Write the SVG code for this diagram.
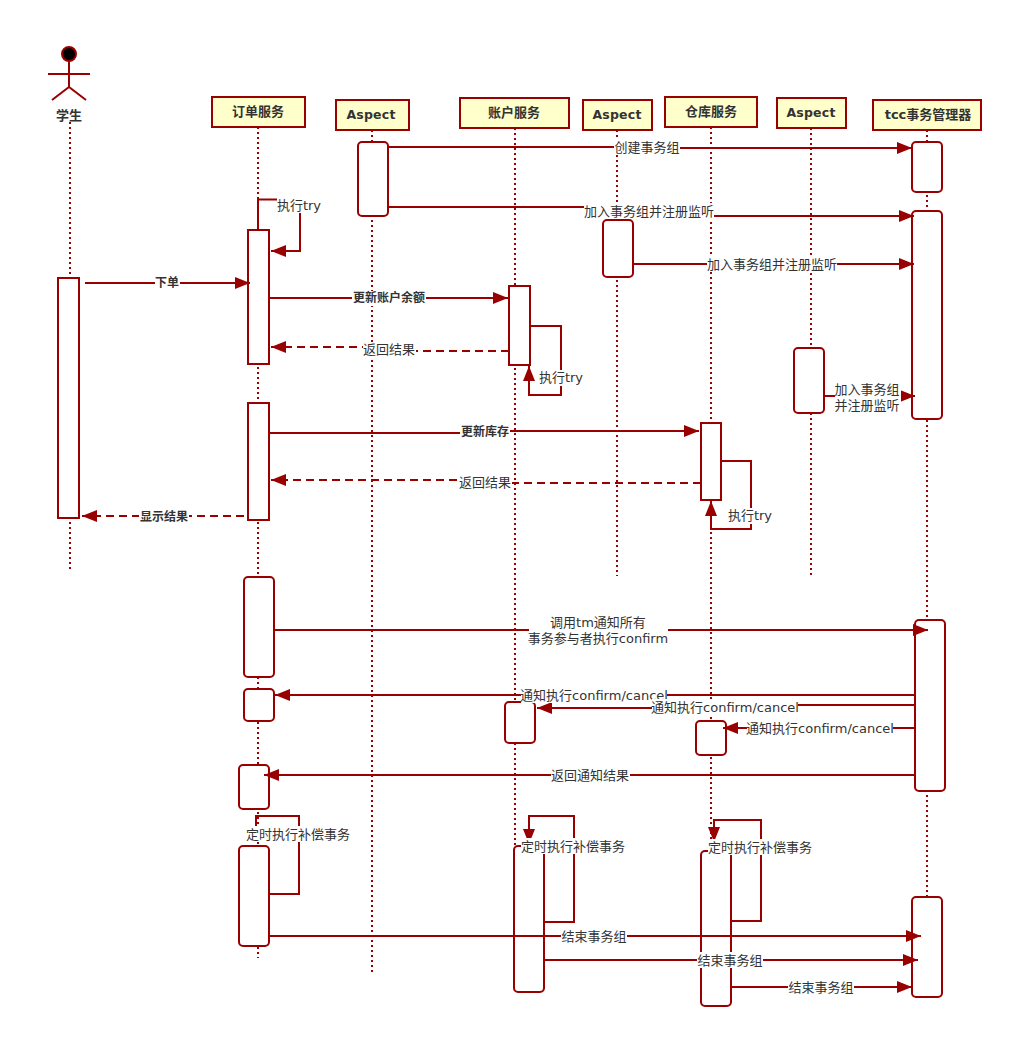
<svg xmlns="http://www.w3.org/2000/svg" width="1012" height="1039" viewBox="0 0 1012 1039">
<style>
text{font-family:"DejaVu Sans","Noto Sans CJK SC",sans-serif;font-size:13px;fill:#333;text-anchor:middle;dominant-baseline:central}
.b{font-weight:bold}.s{font-size:12px;font-weight:bold}
.asp{font-weight:bold;font-size:12.500px;letter-spacing:.2px}
.head{fill:#ffffcc;stroke:#990000;stroke-width:2}
.life{fill:none;stroke:#990000;stroke-width:2;stroke-dasharray:2 3}
.bar{fill:#fff;stroke:#990000;stroke-width:2}
.c{fill:none;stroke:#990000;stroke-width:2;marker-end:url(#a)}
.n{fill:none;stroke:#990000;stroke-width:2}
.d{stroke-dasharray:8 5}
.w{fill:#fff}
</style>
<defs>
<marker id="a" markerUnits="userSpaceOnUse" markerWidth="16" markerHeight="14" refX="15" refY="7" orient="auto"><path d="M0,1 L15,7 L0,13z" fill="#990000"/></marker>
</defs>
<rect width="1012" height="1039" fill="#fff"/>
<g id="student">
<line class="life" x1="70" y1="122" x2="70" y2="570"/>
<circle cx="69" cy="54" r="7" fill="#000" stroke="#990000" stroke-width="2"/>
<path class="n" d="M69,61V87M48,74H90M52,100L69,87L86,100"/>
<text class="b" x="69" y="115">学生</text>
<rect class="bar" x="58" y="278" width="21" height="240"/>
</g>
<g id="order">
<line class="life" x1="258" y1="127" x2="258" y2="958"/>
<rect class="head" x="212" y="97" width="93" height="30"/>
<text class="b" x="258" y="111">订单服务</text>
<rect class="bar" x="248" y="230" width="21" height="134"/>
<rect class="bar" x="248" y="403" width="21" height="117"/>
<rect class="bar" x="244" y="577" width="30" height="100" rx="4"/>
<rect class="bar" x="244" y="689" width="30" height="32" rx="4"/>
<rect class="bar" x="239" y="765" width="30" height="44" rx="4"/>
<rect class="bar" x="239" y="846" width="30" height="100" rx="4"/>
</g>
<g id="aspect1">
<line class="life" x1="372" y1="130" x2="372" y2="975"/>
<rect class="head" x="336" y="100" width="73" height="30"/>
<text class="asp" x="371" y="114">Aspect</text>
<rect class="bar" x="358" y="142" width="30" height="74" rx="4"/>
</g>
<g id="account">
<line class="life" x1="515" y1="128" x2="515" y2="846"/>
<rect class="head" x="460" y="98" width="109" height="30"/>
<text class="b" x="514" y="112">账户服务</text>
<rect class="bar" x="509" y="286" width="21" height="79"/>
<rect class="bar" x="505" y="702" width="30" height="41" rx="4"/>
<rect class="bar" x="514" y="846" width="30" height="146" rx="4"/>
</g>
<g id="aspect2">
<line class="life" x1="617" y1="130" x2="617" y2="576"/>
<rect class="head" x="583" y="100" width="69" height="30"/>
<text class="asp" x="617" y="114">Aspect</text>
<rect class="bar" x="603" y="220" width="30" height="57" rx="4"/>
</g>
<g id="warehouse">
<line class="life" x1="711" y1="127" x2="711" y2="846"/>
<rect class="head" x="665" y="97" width="92" height="30"/>
<text class="b" x="711" y="111">仓库服务</text>
<rect class="bar" x="701" y="423" width="20" height="77"/>
<rect class="bar" x="696" y="721" width="30" height="34" rx="4"/>
<rect class="bar" x="701" y="851" width="30" height="155" rx="4"/>
</g>
<g id="aspect3">
<line class="life" x1="811" y1="128" x2="811" y2="575"/>
<rect class="head" x="777" y="98" width="69" height="30"/>
<text class="asp" x="811" y="112">Aspect</text>
<rect class="bar" x="794" y="348" width="30" height="65" rx="4"/>
</g>
<g id="tcc">
<line class="life" x1="927" y1="130" x2="927" y2="897"/>
<rect class="head" x="873" y="100" width="108" height="30"/>
<text class="b" x="928" y="114">tcc事务管理器</text>
<rect class="bar" x="912" y="142" width="30" height="50" rx="4"/>
<rect class="bar" x="912" y="211" width="30" height="208" rx="4"/>
<rect class="bar" x="915" y="620" width="30" height="171" rx="4"/>
<rect class="bar" x="912" y="897" width="30" height="100" rx="4"/>
</g>
<g id="connectors">
<path class="c" d="M388,147H647V148H912"/>
<path class="c" d="M388,207H649V216H914"/>
<path class="c" d="M633,264H914"/>
<path class="c" d="M824,396H915"/>
<path class="c" d="M85,283H250"/>
<path class="c" d="M269,298H508"/>
<path class="c d" d="M509,351H389V347H271"/>
<path class="c" d="M258,230V199.500H300V251H271"/>
<path class="c" d="M530,326H561V395H529V366"/>
<path class="c" d="M269,433H485V431H699"/>
<path class="c d" d="M701,483H485V480H271"/>
<path class="c" d="M721,461H751V529H711V501"/>
<path class="c d" d="M244,516H82"/>
<path class="c" d="M274,630H928"/>
<path class="c" d="M915,695H275"/>
<path class="c" d="M915,705H725V708H537"/>
<path class="c" d="M915,728H723"/>
<path class="c" d="M915,775H264"/>
<path class="c" d="M269,894H299V816H256V841"/>
<path class="c" d="M544,922H574V816H529V844"/>
<path class="c" d="M731,921H761V820H714V842"/>
<path class="c" d="M269,936H921"/>
<path class="c" d="M544,960H918"/>
<path class="c" d="M731,987H912"/>
<g id="labels">
<rect class="w" x="614" y="139" width="66" height="16"/><text x="647" y="147">创建事务组</text>
<rect class="w" x="584" y="203" width="130" height="16"/><text x="649" y="211">加入事务组并注册监听</text>
<rect class="w" x="707" y="256" width="130" height="16"/><text x="772" y="264">加入事务组并注册监听</text>
<rect class="w" x="835" y="381" width="66" height="32"/><text x="867" y="389">加入事务组</text><text x="867" y="405">并注册监听</text>
<rect class="w" x="155" y="276" width="25" height="15"/><text class="s" x="167" y="283">下单</text>
<rect class="w" x="352" y="291" width="74" height="15"/><text class="s" x="389" y="298">更新账户余额</text>
<rect class="w" x="363" y="342" width="53" height="16"/><text x="389" y="349">返回结果</text>
<rect class="w" x="277" y="197" width="45" height="16"/><text x="299" y="205">执行try</text>
<rect class="w" x="538" y="370" width="46" height="16"/><text x="561" y="377">执行try</text>
<rect class="w" x="460" y="425" width="50" height="15"/><text class="s" x="485" y="432">更新库存</text>
<rect class="w" x="459" y="474" width="53" height="16"/><text x="485" y="482">返回结果</text>
<rect class="w" x="727" y="508" width="46" height="16"/><text x="750" y="515">执行try</text>
<rect class="w" x="139" y="509" width="50" height="15"/><text class="s" x="164" y="517">显示结果</text>
<rect class="w" x="529" y="614" width="139" height="32"/><text x="598" y="622">调用tm通知所有</text><text x="598" y="638">事务参与者执行confirm</text>
<rect class="w" x="521" y="687" width="146" height="16"/><text x="594" y="695">通知执行confirm/cancel</text>
<rect class="w" x="652" y="699" width="146" height="16"/><text x="725" y="707">通知执行confirm/cancel</text>
<rect class="w" x="747" y="720" width="146" height="16"/><text x="820" y="728">通知执行confirm/cancel</text>
<rect class="w" x="551" y="767" width="79" height="16"/><text x="590" y="775">返回通知结果</text>
<rect class="w" x="246" y="826" width="105" height="16"/><text x="298" y="834">定时执行补偿事务</text>
<rect class="w" x="521" y="838" width="105" height="16"/><text x="573" y="846">定时执行补偿事务</text>
<rect class="w" x="708" y="839" width="105" height="16"/><text x="760" y="847">定时执行补偿事务</text>
<rect class="w" x="561" y="928" width="66" height="16"/><text x="594" y="936">结束事务组</text>
<rect class="w" x="697" y="952" width="66" height="16"/><text x="730" y="960">结束事务组</text>
<rect class="w" x="788" y="979" width="66" height="16"/><text x="821" y="987">结束事务组</text>
</g>
</g>
</svg>
